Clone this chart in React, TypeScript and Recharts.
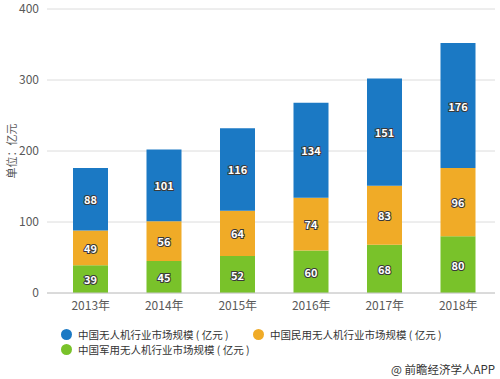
import { BarChart, Bar, XAxis, YAxis, CartesianGrid, LabelList } from 'recharts';

const years = ['2013年', '2014年', '2015年', '2016年', '2017年', '2018年'];
const military = [39, 45, 52, 60, 68, 80];
const civil = [49, 56, 64, 74, 83, 96];
const total = [88, 101, 116, 134, 151, 176];
const yTicks = [0, 100, 200, 300, 400];

const seriesNames = [
  '中国无人机行业市场规模 ( 亿元 )',
  '中国民用无人机行业市场规模 ( 亿元 )',
  '中国军用无人机行业市场规模 ( 亿元 )',
];

const BLUE = '#1b79c4';
const ORANGE = '#f0ab27';
const GREEN = '#79c22a';
const FONT = '"Noto Sans CJK SC", "Microsoft YaHei", sans-serif';

const data = years.map((year, i) => ({
  year,
  military: military[i],
  civil: civil[i],
  total: total[i],
}));

function SegmentLabel(props: any) {
  const { x, y, width, height, value } = props;
  return (
    <text
      x={x + width / 2}
      y={y + height / 2}
      textAnchor="middle"
      dominantBaseline="central"
      fontSize={11}
      fontWeight="bold"
      fill="#fff"
      stroke="#3a3a3a"
      strokeWidth={2}
      paintOrder="stroke"
      fontFamily={FONT}
    >
      {value}
    </text>
  );
}

function LegendItem({ color, label, left, top }: { color: string; label: string; left: number; top: number }) {
  return (
    <div style={{ position: 'absolute', left, top, height: 14, display: 'flex', alignItems: 'center', fontSize: 10.5, color: '#333', whiteSpace: 'pre' }}>
      <span style={{ width: 11, height: 11, borderRadius: '50%', background: color, marginRight: 6, display: 'inline-block' }} />
      {label}
    </div>
  );
}

export default function App() {
  return (
    <div style={{ position: 'absolute', left: 0, top: 0, width: 500, height: 379, background: '#fff', fontFamily: FONT }}>
      <BarChart width={500} height={379} data={data} margin={{ top: 9, right: 5, left: 0, bottom: 56 }} barSize={35}>
        <CartesianGrid vertical={false} stroke="#dcdcdc" />
        <XAxis
          dataKey="year"
          height={30}
          tickLine={false}
          axisLine={{ stroke: '#c8c8c8' }}
          tick={{ fontSize: 12, fill: '#595959', fontFamily: FONT }}
          padding={{ left: 7, right: 0 }}
        />
        <YAxis
          width={47}
          domain={[0, 400]}
          ticks={yTicks}
          tickLine={false}
          axisLine={false}
          tick={{ fontSize: 12, fill: '#595959', fontFamily: FONT }}
          label={{ value: '单位：亿元', angle: -90, position: 'insideLeft', offset: 12, style: { fontSize: 11, fill: '#595959', fontFamily: FONT, textAnchor: 'middle' } }}
        />
        <Bar dataKey="military" stackId="a" fill={GREEN} isAnimationActive={false}>
          <LabelList dataKey="military" content={SegmentLabel} />
        </Bar>
        <Bar dataKey="civil" stackId="a" fill={ORANGE} isAnimationActive={false}>
          <LabelList dataKey="civil" content={SegmentLabel} />
        </Bar>
        <Bar dataKey="total" stackId="a" fill={BLUE} isAnimationActive={false}>
          <LabelList dataKey="total" content={SegmentLabel} />
        </Bar>
      </BarChart>
      <LegendItem color={BLUE} label={seriesNames[0]} left={61} top={327} />
      <LegendItem color={ORANGE} label={seriesNames[1]} left={253} top={327} />
      <LegendItem color={GREEN} label={seriesNames[2]} left={61} top={342} />
      <div style={{ position: 'absolute', right: 5, top: 361, fontSize: 11.5, color: '#333' }}>@ 前瞻经济学人APP</div>
    </div>
  );
}
